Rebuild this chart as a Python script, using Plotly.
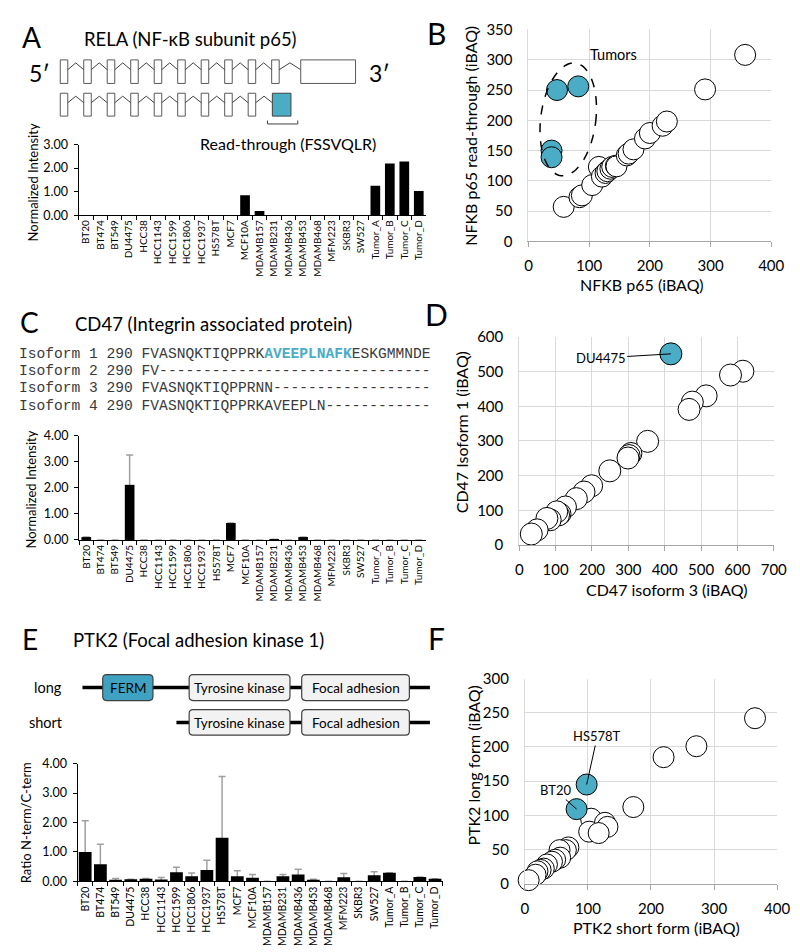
import numpy as np
import plotly.graph_objects as go

W, H = 800, 952
SANS = "Lato, Carlito, 'Noto Sans', sans-serif"
MONO = "'Liberation Mono', 'Courier New', monospace"
TEAL = "#4BACC6"
GRID = "#d9d9d9"
AXGRAY = "#a6a6a6"

# ---------------------------------------------------------------- data
cell_lines = ["BT20", "BT474", "BT549", "DU4475", "HCC38", "HCC1143", "HCC1599",
              "HCC1806", "HCC1937", "HS578T", "MCF7", "MCF10A", "MDAMB157",
              "MDAMB231", "MDAMB436", "MDAMB453", "MDAMB468", "MFM223", "SKBR3",
              "SW527", "Tumor_A", "Tumor_B", "Tumor_C", "Tumor_D"]

# Panel A: RELA read-through normalized intensity
rela_readthrough = [0, 0, 0, 0, 0, 0, 0, 0, 0, 0, 0, 0.85, 0.18, 0, 0, 0, 0, 0,
                    0, 0, 1.25, 2.20, 2.28, 1.03]

# Panel C: CD47 isoform 1 normalized intensity (+ upper error)
cd47_intensity = [0.11, 0, 0, 2.12, 0, 0, 0, 0, 0, 0, 0.65, 0, 0, 0.02, 0, 0.11,
                  0, 0, 0, 0, 0, 0, 0, 0]
cd47_err = [None, None, None, 1.15, None, None, None, None, None, None, None, None,
            None, None, None, None, None, None, None, None, None, None, None, None]

# Panel E: PTK2 ratio N-term / C-term (+ upper error)
ptk2_ratio = [1.00, 0.58, 0.04, 0.07, 0.09, 0.06, 0.31, 0.17, 0.39, 1.48, 0.17, 0.12,
              0, 0.17, 0.23, 0.04, 0, 0.14, 0, 0.21, 0.29, 0, 0.15, 0.09]
ptk2_err = [1.06, 0.68, 0.06, None, 0.01, 0.07, 0.17, 0.11, 0.33, 2.08, 0.19, 0.11,
            None, 0.06, 0.18, 0.03, None, 0.13, None, 0.12, None, None, None, None]

# Panel B: NFKB p65 vs read-through (iBAQ)
nfkb_p65_cells = [58, 84, 88, 105, 116, 121, 127, 130, 135, 138, 144, 145, 162, 165,
                  173, 192, 200, 221, 228, 291, 357]
nfkb_rt_cells = [57, 73, 76, 93, 123, 107, 113, 116, 120, 123, 125, 124, 142, 145,
                 152, 170, 179, 191, 198, 251, 308]
nfkb_p65_tumors = [47, 82, 38, 38]
nfkb_rt_tumors = [250, 256, 150, 139]

# Panel D: CD47 isoform 3 vs isoform 1 (iBAQ)
cd47_iso3_cells = [615, 581, 514, 476, 467, 353, 307, 302, 299, 249, 199, 178, 157,
                   127, 112, 108, 103, 85, 76, 49, 33]
cd47_iso1_cells = [501, 490, 430, 412, 391, 299, 264, 258, 251, 214, 171, 153, 134,
                   110, 90, 87, 96, 73, 77, 44, 32]
cd47_iso3_du4475 = [417]
cd47_iso1_du4475 = [551]

# Panel F: PTK2 short vs long form (iBAQ)
ptk2_short_cells = [365, 272, 220, 172, 105, 127, 131, 102, 117, 69, 65, 55, 56, 48,
                    43, 35, 30, 25, 20, 17, 6]
ptk2_long_cells = [242, 201, 185, 112, 95, 89, 83, 76, 74, 53, 49, 49, 38, 35, 32,
                   28, 22, 20, 18, 13, 5]
ptk2_short_hl = [98, 82]
ptk2_long_hl = [145, 109]
ptk2_hl_names = ["HS578T", "BT20"]

# Panel C alignment
isoform_names = ["Isoform 1", "Isoform 2", "Isoform 3", "Isoform 4"]
isoform_start = 290
isoform_seqs = ["FVASNQKTIQPPRKAVEEPLNAFKESKGMMNDE",
                "FV-------------------------------",
                "FVASNQKTIQPPRNN------------------",
                "FVASNQKTIQPPRKAVEEPLN------------"]
cd47_peptide = "AVEEPLNAFK"

# gene / domain structure
rela_n_exons_full = 10
rela_n_exons_rt = 9
ptk2_long_domains = ["FERM", "Tyrosine kinase", "Focal adhesion"]
ptk2_short_domains = ["Tyrosine kinase", "Focal adhesion"]

# ---------------------------------------------------------------- helpers
def X(p):
    return p / W


def Y(p):
    return 1 - p / H


shapes = []
annotations = []


def text(x, y, s, size, family=SANS, color="black", xanchor="center",
         yanchor="middle", angle=0):
    annotations.append(dict(x=X(x), y=Y(y), xref="paper", yref="paper", text=s,
                            showarrow=False, textangle=angle,
                            font=dict(family=family, size=size, color=color),
                            xanchor=xanchor, yanchor=yanchor))


def rect(x0, y0, x1, y1, fill, line="#595959", lw=1):
    shapes.append(dict(type="rect", xref="paper", yref="paper", x0=X(x0), x1=X(x1),
                       y0=Y(y1), y1=Y(y0), fillcolor=fill,
                       line=dict(color=line, width=lw)))


def rrect(x0, y0, x1, y1, r, fill, line="#404040", lw=1.2):
    p = (f"M {X(x0 + r)},{Y(y0)} L {X(x1 - r)},{Y(y0)} Q {X(x1)},{Y(y0)} {X(x1)},{Y(y0 + r)} "
         f"L {X(x1)},{Y(y1 - r)} Q {X(x1)},{Y(y1)} {X(x1 - r)},{Y(y1)} "
         f"L {X(x0 + r)},{Y(y1)} Q {X(x0)},{Y(y1)} {X(x0)},{Y(y1 - r)} "
         f"L {X(x0)},{Y(y0 + r)} Q {X(x0)},{Y(y0)} {X(x0 + r)},{Y(y0)} Z")
    shapes.append(dict(type="path", xref="paper", yref="paper", path=p,
                       fillcolor=fill, line=dict(color=line, width=lw)))


def pline(pts, color="black", width=1, dash="solid"):
    p = "M " + " L ".join(f"{X(a)},{Y(b)}" for a, b in pts)
    shapes.append(dict(type="path", xref="paper", yref="paper", path=p,
                       line=dict(color=color, width=width, dash=dash)))


fig = go.Figure()

# ---------------------------------------------------------------- bar panels
def add_bars(vals, errs, xa, ya, width):
    base = [v if v is not None else 0 for v in vals]
    err_plus = [e if e is not None else float("nan") for e in errs] if errs else None
    if errs:
        fig.add_trace(go.Bar(x=cell_lines, y=base, xaxis=xa, yaxis=ya, width=width,
                             marker=dict(color="rgba(0,0,0,0)", line=dict(width=0)),
                             error_y=dict(type="data", array=err_plus, symmetric=False,
                                          arrayminus=base, color="#a0a0a0",
                                          thickness=1.5, width=3.5),
                             hoverinfo="skip", showlegend=False))
    fig.add_trace(go.Bar(x=cell_lines, y=base, xaxis=xa, yaxis=ya, width=width,
                         marker=dict(color="black", line=dict(width=0)),
                         showlegend=False))


add_bars(rela_readthrough, None, "x", "y", 0.67)
add_bars(cd47_intensity, cd47_err, "x3", "y3", 0.67)
add_bars(ptk2_ratio, ptk2_err, "x5", "y5", 0.84)


def bar_xaxis(dom, anchor, size):
    return dict(domain=dom, anchor=anchor, type="category", showline=True,
                linecolor="black", linewidth=1, ticks="outside", tickson="boundaries",
                ticklen=4, tickcolor="black", tickangle=-90,
                tickfont=dict(family=SANS, size=size, color="black"),
                showgrid=False, zeroline=False, fixedrange=True,
                range=[-0.5, len(cell_lines) - 0.5])


def bar_yaxis(dom, anchor, rng):
    return dict(domain=dom, anchor=anchor, range=rng, dtick=1, tickformat=".2f",
                showline=True, linecolor="black", linewidth=1, ticks="outside",
                ticklen=4, tickcolor="black", ticklabelstandoff=3,
                tickfont=dict(family=SANS, size=12.5, color="black"),
                showgrid=False, zeroline=False, fixedrange=True)


# ---------------------------------------------------------------- scatter panels
def circles(xs, ys, xa, ya, color, size):
    fig.add_trace(go.Scatter(x=xs, y=ys, xaxis=xa, yaxis=ya, mode="markers",
                             cliponaxis=False, showlegend=False,
                             marker=dict(size=size, color=color,
                                         line=dict(color="black", width=1))))


circles(nfkb_p65_cells, nfkb_rt_cells, "x2", "y2", "white", 21)
circles(nfkb_p65_tumors, nfkb_rt_tumors, "x2", "y2", TEAL, 21)
circles(cd47_iso3_cells, cd47_iso1_cells, "x4", "y4", "white", 22)
circles(cd47_iso3_du4475, cd47_iso1_du4475, "x4", "y4", TEAL, 22)
circles(ptk2_short_cells, ptk2_long_cells, "x6", "y6", "white", 21)
circles(ptk2_short_hl, ptk2_long_hl, "x6", "y6", TEAL, 21)


def sc_xaxis(dom, anchor, rng, dtick):
    return dict(domain=dom, anchor=anchor, range=rng, dtick=dtick, showline=True,
                linecolor=AXGRAY, linewidth=1, ticks="outside", ticklen=5,
                tickcolor=AXGRAY, ticklabelstandoff=6,
                tickfont=dict(family=SANS, size=15, color="black"),
                showgrid=True, gridcolor=GRID, gridwidth=1, zeroline=False,
                fixedrange=True)


def sc_yaxis(dom, anchor, rng, dtick):
    return dict(domain=dom, anchor=anchor, range=rng, dtick=dtick, showline=True,
                linecolor=GRID, linewidth=1, ticks="", ticklabelstandoff=12,
                tickfont=dict(family=SANS, size=15, color="black"),
                showgrid=True, gridcolor=GRID, gridwidth=1, zeroline=False,
                fixedrange=True)


# ---------------------------------------------------------------- panel A diagram
text(20, 19, "A", 28)
text(72, 21, "RELA (NF-κB subunit p65)", 18.5, xanchor="left")
text(28, 56, "5′", 23)
text(375, 56, "3′", 23)

ex_x0, ex_pitch, ex_w = 49.3, 24.0, 7.7
rows = [(42.7, 66.7), (76.7, 100.0)]
for r, (top, bot) in enumerate(rows):
    n = rela_n_exons_full if r == 0 else rela_n_exons_rt
    mid = (top + bot) / 2
    for k in range(n):
        rect(ex_x0 + k * ex_pitch, top, ex_x0 + k * ex_pitch + ex_w, bot, "white")
    lefts = [ex_x0 + (k + 1) * ex_pitch for k in range(n - 1)]
    lefts.append(295.0 if r == 0 else 266.0)
    for k in range(n):
        a = ex_x0 + k * ex_pitch + ex_w
        b = lefts[k]
        pline([(a, mid - 2), ((a + b) / 2, top + 3), (b, mid - 2)], color="#404040", width=1)
    if r == 0:
        rect(295, top, 351, bot, "white")
    else:
        rect(266, top, 285, bot, TEAL, line="#404040")

pline([(261, 104.5), (261, 108), (292, 108), (292, 104.5)], color="#404040", width=1)
text(282, 128, "Read-through (FSSVQLR)", 16)
text(21, 168, "Normalized Intensity", 13, angle=-90)

# ---------------------------------------------------------------- panel B annotations
text(434, 15, "B", 30)
text(643, 272, "NFKB p65 (iBAQ)", 16)
text(469, 120, "NFKB p65 read-through (iBAQ)", 16, angle=-90)

ell_c = (65.5, 201.5)
ell_major = (12.0, 93.0)
ell_minor = (45.0, -6.0)
t = np.linspace(0, 2 * np.pi, 73)
ex = ell_c[0] + np.cos(t) * ell_minor[0] + np.sin(t) * ell_major[0]
ey = ell_c[1] + np.cos(t) * ell_minor[1] + np.sin(t) * ell_major[1]
shapes.append(dict(type="path", xref="x2", yref="y2",
                   path="M " + " L ".join(f"{a:.2f},{b:.2f}" for a, b in zip(ex, ey)) + " Z",
                   line=dict(color="black", width=1.5, dash="dash")))
annotations.append(dict(x=140, y=308, xref="x2", yref="y2", text="Tumors",
                        showarrow=False, font=dict(family=SANS, size=14.5, color="black")))

# ---------------------------------------------------------------- panel C
text(18, 310, "C", 28)
text(62, 312, "CD47 (Integrin associated protein)", 18.5, xanchor="left")
align_y = [342, 359.5, 377, 395]
for name, seq, yy in zip(isoform_names, isoform_seqs, align_y):
    s = seq.replace(cd47_peptide,
                    f"<b><span style='color:{TEAL}'>{cd47_peptide}</span></b>")
    text(5, yy, f"{name} {isoform_start} {s}", 14.6, family=MONO, color="#3a3a3a",
         xanchor="left")
text(19, 481, "Normalized Intensity", 13, angle=-90)

# ---------------------------------------------------------------- panel D
text(434, 302, "D", 30)
text(669, 583, "CD47 isoform 3 (iBAQ)", 16)
text(459, 422, "CD47 Isoform 1 (iBAQ)", 16, angle=-90)
annotations.append(dict(x=cd47_iso3_du4475[0], y=cd47_iso1_du4475[0], xref="x4", yref="y4",
                        ax=224, ay=539, axref="x4", ayref="y4", text="DU4475",
                        showarrow=True, arrowhead=0, arrowwidth=1, arrowcolor="black",
                        font=dict(family=SANS, size=13, color="black")))

# ---------------------------------------------------------------- panel E
text(18, 633, "E", 28)
text(60, 634, "PTK2 (Focal adhesion kinase 1)", 18.5, xanchor="left")
text(37, 682, "long", 14.5)
text(35, 718, "short", 14.5)
box_pos = {"FERM": (92.7, 144.0), "Tyrosine kinase": (181.0, 284.0),
           "Focal adhesion": (296.0, 406.0)}
for doms, (top, bot), x_start in [(ptk2_long_domains, (669.3, 695.7), 72.0),
                                  (ptk2_short_domains, (705.0, 731.0), 168.0)]:
    mid = (top + bot) / 2
    pline([(x_start, mid), (427.0, mid)], color="black", width=3.5)
    for d in doms:
        x0, x1 = box_pos[d]
        fill = "#3fa2c2" if d == "FERM" else "#f2f2f2"
        rrect(x0, top, x1, bot, 4, fill)
        text((x0 + x1) / 2, mid + 0.5, d, 13.5)
text(15, 820, "Ratio N-term/C-term", 13, angle=-90)

# ---------------------------------------------------------------- panel F
text(434, 632, "F", 30)
text(658, 927, "PTK2 short form (iBAQ)", 16)
text(472, 762, "PTK2 long form (iBAQ)", 16, angle=-90)
hl_text_pos = [(115, 216), (48, 137)]
for name, sx, ly, (tx, ty) in zip(ptk2_hl_names, ptk2_short_hl, ptk2_long_hl, hl_text_pos):
    annotations.append(dict(x=sx, y=ly, xref="x6", yref="y6", ax=tx, ay=ty,
                            axref="x6", ayref="y6", text=name, showarrow=True,
                            arrowhead=0, arrowwidth=1, arrowcolor="black",
                            font=dict(family=SANS, size=13, color="black")))

# ---------------------------------------------------------------- layout
fig.update_layout(
    width=W, height=H, margin=dict(l=0, r=0, t=0, b=0),
    paper_bgcolor="white", plot_bgcolor="white", barmode="overlay",
    showlegend=False, font=dict(family=SANS, color="black"),
    xaxis=bar_xaxis([X(68), X(423)], "y", 10),
    yaxis=bar_yaxis([Y(201), Y(129)], "x", [0, 3]),
    xaxis3=bar_xaxis([X(68.5), X(423)], "y3", 10),
    yaxis3=bar_yaxis([Y(532), Y(426)], "x3", [0, 4]),
    xaxis5=bar_xaxis([X(67), X(440)], "y5", 10.5),
    yaxis5=bar_yaxis([Y(880), Y(760)], "x5", [0, 4]),
    xaxis2=sc_xaxis([X(527.7), X(775.7)], "y2", [0, 400], 100),
    yaxis2=sc_yaxis([Y(227.7), Y(11.7)], "x2", [0, 350], 50),
    xaxis4=sc_xaxis([X(518.3), X(778.3)], "y4", [0, 700], 100),
    yaxis4=sc_yaxis([Y(537.3), Y(325)], "x4", [0, 600], 100),
    xaxis6=sc_xaxis([X(524), X(781.7)], "y6", [0, 400], 100),
    yaxis6=sc_yaxis([Y(882.3), Y(673.3)], "x6", [0, 300], 50),
    shapes=shapes, annotations=annotations,
)

fig.write_html("out.html")
